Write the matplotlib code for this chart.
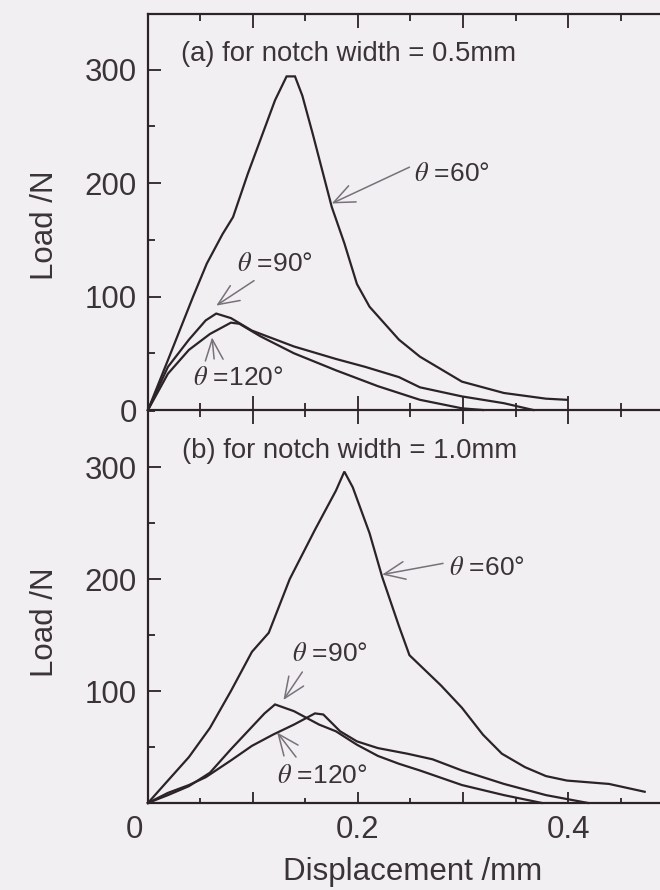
import matplotlib
matplotlib.use('Agg')
import matplotlib.pyplot as plt
from matplotlib.ticker import MultipleLocator, FuncFormatter, NullFormatter

plt.rcParams['font.family'] = ['Liberation Sans', 'DejaVu Sans']
plt.rcParams['mathtext.fontset'] = 'stix'

# ---------------- data (displacement in mm, load in N) ----------------
a60_d = [0, 0.019, 0.043, 0.056, 0.071, 0.081, 0.095, 0.109, 0.121, 0.132, 0.140,
         0.147, 0.157, 0.175, 0.187, 0.199, 0.211, 0.239, 0.259, 0.299, 0.339, 0.379, 0.399]
a60_L = [0, 44, 100, 129, 155, 170, 208, 243, 273, 294, 294,
         277, 243, 179, 147, 111, 91, 62, 47, 25, 15, 10, 9]

a90_d = [0, 0.019, 0.039, 0.055, 0.065, 0.079, 0.099, 0.139, 0.179, 0.207, 0.239, 0.259, 0.299, 0.339, 0.367]
a90_L = [0, 38, 62, 79, 85, 81, 70, 56, 45, 38, 29, 20, 12, 6, 0]

a120_d = [0, 0.019, 0.039, 0.059, 0.079, 0.087, 0.107, 0.139, 0.179, 0.219, 0.259, 0.299, 0.319]
a120_L = [0, 32, 53, 67, 77, 76, 65, 50, 35, 21, 9, 1.5, 0]

b60_d = [0, 0.019, 0.039, 0.059, 0.079, 0.099, 0.115, 0.135, 0.159, 0.179, 0.187, 0.195, 0.211,
         0.223, 0.239, 0.249, 0.279, 0.299, 0.319, 0.337, 0.359, 0.379, 0.399, 0.439, 0.473]
b60_L = [0, 20, 41, 67, 100, 135, 152, 200, 244, 279, 296, 282, 241,
         202, 158, 132, 105, 85, 61, 44, 32, 24, 20, 17, 10]

b90_d = [0, 0.019, 0.039, 0.059, 0.079, 0.099, 0.111, 0.121, 0.139, 0.163, 0.179, 0.199, 0.219,
         0.239, 0.259, 0.299, 0.339, 0.375]
b90_L = [0, 7, 15, 27, 48, 68, 80, 88, 82, 70, 64, 52, 42, 35, 29, 16, 7, 0]

b120_d = [0, 0.019, 0.039, 0.055, 0.079, 0.099, 0.119, 0.139, 0.151, 0.159, 0.167, 0.183, 0.199,
          0.219, 0.247, 0.271, 0.299, 0.339, 0.379, 0.419]
b120_L = [0, 9, 16, 23, 38, 51, 61, 70, 76, 80, 79, 64, 55, 49, 44, 39, 29, 17, 7, 0]

panel_titles = ['(a) for notch width = 0.5mm', '(b) for notch width = 1.0mm']
angle_labels = ['60', '90', '120']

# ---------------- style ----------------
BG = '#f2eff2'
LC = '#2b2327'
TC = '#3a3438'
AC = '#77717a'
FS_TICK = 22.5
FS_LAB = 22.5
FS_TITLE = 19.8
FS_ANG = 19

fig = plt.figure(figsize=(6.6, 8.9), dpi=100, facecolor=BG)
ax1 = fig.add_axes([0.2242, 0.5393, 0.7758, 0.4450])
ax2 = fig.add_axes([0.2242, 0.0978, 0.7758, 0.4415])

for ax in (ax1, ax2):
    ax.set_facecolor(BG)
    ax.patch.set_alpha(0)
    ax.spines['right'].set_visible(False)
    for s in ('left', 'top', 'bottom'):
        ax.spines[s].set_linewidth(1.6)
        ax.spines[s].set_color(LC)
    ax.set_xlim(0, 0.4876)
    ax.xaxis.set_major_locator(MultipleLocator(0.1))
    ax.xaxis.set_minor_locator(MultipleLocator(0.05))
    ax.yaxis.set_major_locator(MultipleLocator(100))
    ax.yaxis.set_minor_locator(MultipleLocator(50))
    ax.tick_params(axis='y', which='major', direction='in', length=9, width=1.3,
                   color=LC, labelcolor=TC, labelsize=FS_TICK, pad=8, right=False)
    ax.tick_params(axis='y', which='minor', direction='in', length=5, width=1.3,
                   color=LC, right=False)
    ax.set_ylabel('Load /N', fontsize=FS_LAB, color=TC)

ax1.set_ylim(0, 349)
ax2.set_ylim(0, 351)

# top panel x ticks (in on both sides, no labels)
ax1.tick_params(axis='x', which='major', direction='in', length=10, width=1.3, color=LC,
                top=True, bottom=True, labelbottom=False)
ax1.tick_params(axis='x', which='minor', direction='in', length=5, width=1.3, color=LC,
                top=True, bottom=True)

# bottom panel
ax2.spines['top'].set_visible(False)
ax2.tick_params(axis='x', which='major', direction='in', length=8, width=1.3, color=LC,
                labelcolor=TC, labelsize=FS_TICK, pad=9, top=False)
ax2.tick_params(axis='x', which='minor', direction='in', length=3.5, width=1.3, color=LC, top=False)
sec = ax2.secondary_xaxis('top')
sec.xaxis.set_major_locator(MultipleLocator(0.1))
sec.xaxis.set_minor_locator(MultipleLocator(0.05))
sec.xaxis.set_major_formatter(NullFormatter())
sec.tick_params(which='major', direction='in', length=10, width=1.3, color=LC)
sec.tick_params(which='minor', direction='in', length=5, width=1.3, color=LC)
for s in sec.spines.values():
    s.set_visible(False)


def xfmt(v, p):
    if abs(v) < 1e-9:
        return ''
    return '%.1f' % v if round(v * 10) % 2 == 0 else ''


ax2.xaxis.set_major_formatter(FuncFormatter(xfmt))
ax2.yaxis.set_major_formatter(FuncFormatter(lambda v, p: '' if abs(v) < 1e-9 else '%d' % v))
ax2.annotate('0', xy=(0, 0), xycoords=('data', 'axes fraction'), xytext=(-10, -9),
             textcoords='offset points', ha='center', va='top', fontsize=FS_TICK, color=TC)

ax2.set_xlabel('Displacement /mm', fontsize=FS_LAB, color=TC)
ax2.xaxis.label.set_va('center')
ax2.xaxis.set_label_coords(0.516, -0.175)
ax1.yaxis.set_label_coords(-0.172, 0.467)
ax2.yaxis.set_label_coords(-0.172, 0.46)

# curves
for ax, data in ((ax1, ((a60_d, a60_L), (a90_d, a90_L), (a120_d, a120_L))),
                 (ax2, ((b60_d, b60_L), (b90_d, b90_L), (b120_d, b120_L)))):
    for d, L in data:
        ax.plot(d, L, color=LC, lw=1.6, solid_joinstyle='miter', clip_on=False)

# panel titles
ax1.text(0.031, 314, panel_titles[0], fontsize=FS_TITLE, color=TC, ha='left', va='center')
ax2.text(0.032, 314, panel_titles[1], fontsize=FS_TITLE, color=TC, ha='left', va='center')

arrow = dict(arrowstyle='->,head_length=0.75,head_width=0.32', color=AC, lw=1.1,
             shrinkA=0, shrinkB=0, mutation_scale=20)

# annotations: text x, text y, arrow tail, arrow head
ann_a = [
    (0.253, 208, (0.249, 214), (0.175, 182)),
    (0.085, 129, (0.101, 114), (0.065, 92)),
    (0.043, 28, (0.063, 45), (0.061, 64)),
]
ann_b = [
    (0.287, 210, (0.281, 214), (0.223, 204)),
    (0.137, 133, (0.147, 117), (0.129, 92)),
    (0.123, 24, (0.141, 41), (0.123, 63)),
]
for ax, anns in ((ax1, ann_a), (ax2, ann_b)):
    for (tx, ty, tail, head), lab in zip(anns, angle_labels):
        ax.text(tx, ty, r'$\theta$ =' + lab + '°', fontsize=FS_ANG, color=TC,
                ha='left', va='center')
        ax.annotate('', xy=head, xytext=tail, arrowprops=arrow)

fig.savefig('out.png', dpi=100, facecolor=BG)
